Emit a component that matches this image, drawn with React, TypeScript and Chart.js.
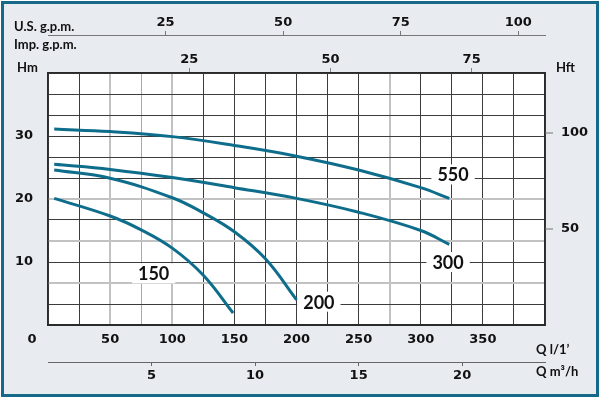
import React, { useEffect, useRef } from 'react';
import { Chart, registerables } from 'chart.js';

Chart.register(...registerables);

// ---- Data (flow in l/min, head in m) ----
const FLOW_550 = [5, 50, 100, 150, 200, 250, 300, 323];
const HEAD_550 = [31.1, 30.7, 29.9, 28.5, 26.8, 24.6, 21.8, 20.1];

const FLOW_300 = [5, 50, 100, 150, 200, 250, 300, 323];
const HEAD_300 = [25.5, 24.7, 23.4, 21.8, 20.1, 17.9, 15.0, 12.8];

const FLOW_200 = [5, 50, 100, 125, 150, 175, 200];
const HEAD_200 = [24.6, 23.3, 20.2, 17.8, 14.8, 10.5, 4.0];

const FLOW_150 = [5, 50, 75, 100, 125, 149];
const HEAD_150 = [20.1, 17.3, 15.1, 12.2, 7.9, 1.9];

const SERIES_NAMES = ['550', '300', '200', '150'];
// label anchor points (flow l/min, head m)
const LABEL_FLOW = [326, 322, 218, 85];
const LABEL_HEAD = [23.9, 10.0, 3.7, 8.2];

// ---- Tick labels ----
const LPM_TICKS = [50, 100, 150, 200, 250, 300, 350];
const M3H_TICKS = [5, 10, 15, 20];
const USGPM_TICKS = [25, 50, 75, 100];
const IMPGPM_TICKS = [25, 50, 75];
const HM_TICKS = [10, 20, 30];
const HFT_TICKS = [50, 100];

// ---- Axis ranges ----
const LPM_MAX = 400;
const HM_MAX = 40;
const HM_GRID_DIVISIONS = 12;

// ---- Styles ----
const CURVE_COLOR = '#0f6d8c';
const FRAME_COLOR = '#17698a';
const PAGE_BG = '#e8ebf0';
const GRID_DARK = '#3c3c3c';
const GRID_LIGHT = '#c2c2c2';
const GRAY_V = [50, 100, 275];
const GRAY_V_THIN = [75];
const GRAY_H_IDX = [2, 4, 6];
const TICK_FONT = { family: 'DejaVu Sans', size: 13, weight: 'bold' as const };
const TITLE_FONT = 'bold 13px Lato';
const LABEL_FONT = 'bold 18px Lato';

const near = (a: number, b: number) => Math.abs(a - b) < 1e-6;

const App: React.FC = () => {
  const canvasRef = useRef<HTMLCanvasElement | null>(null);

  useEffect(() => {
    const canvas = canvasRef.current;
    if (!canvas) return;

    const mk = (xs: number[], ys: number[]) => xs.map((x, i) => ({ x, y: ys[i] }));

    const decorPlugin = {
      id: 'decor',
      beforeDraw(chart: any) {
        const { ctx, width, height, chartArea: a } = chart;
        ctx.save();
        ctx.fillStyle = PAGE_BG;
        ctx.fillRect(0, 0, width, height);
        ctx.fillStyle = '#ffffff';
        ctx.fillRect(a.left, a.top, a.right - a.left, a.bottom - a.top);
        ctx.restore();
      },
      beforeDatasetsDraw(chart: any) {
        const { ctx } = chart;
        const xs = chart.scales.x;
        const ys = chart.scales.y;
        ctx.save();
        ctx.font = LABEL_FONT;
        ctx.textAlign = 'center';
        ctx.textBaseline = 'middle';
        SERIES_NAMES.forEach((name, i) => {
          const px = xs.getPixelForValue(LABEL_FLOW[i]);
          const py = ys.getPixelForValue(LABEL_HEAD[i]);
          const w = ctx.measureText(name).width + 12;
          ctx.fillStyle = '#ffffff';
          ctx.fillRect(px - w / 2, py - 10, w, 20);
          ctx.fillStyle = '#111111';
          ctx.fillText(name, px, py + 1);
        });
        ctx.restore();
      },
      afterDraw(chart: any) {
        const { ctx, width, height } = chart;
        ctx.save();
        ctx.fillStyle = '#111111';
        ctx.font = TITLE_FONT;
        ctx.textBaseline = 'middle';
        ctx.textAlign = 'left';
        ctx.fillText('U.S. g.p.m.', 14, 27);
        ctx.fillText('Imp. g.p.m.', 14, 45);
        ctx.fillText('Hm', 17, 68);
        ctx.fillText('Hft', 556, 68);
        ctx.fillText('Q l/1\u2019', 536, 350);
        ctx.fillText('Q m\u00b3/h', 536, 372);
        ctx.font = `${TICK_FONT.weight} ${TICK_FONT.size}px "${TICK_FONT.family}"`;
        ctx.textAlign = 'center';
        ctx.fillText('0', 32, 340);
        ctx.strokeStyle = '#ffffff';
        ctx.lineWidth = 1;
        ctx.strokeRect(0.5, 0.5, width - 1, height - 1);
        ctx.strokeStyle = FRAME_COLOR;
        ctx.lineWidth = 3;
        ctx.strokeRect(2.5, 2.5, width - 5, height - 5);
        ctx.restore();
      },
    };

    const ds = (xs: number[], ys: number[]) => ({
      data: mk(xs, ys),
      xAxisID: 'x',
      yAxisID: 'y',
      showLine: true,
      borderColor: CURVE_COLOR,
      backgroundColor: CURVE_COLOR,
      borderWidth: 3,
      pointRadius: 0,
      tension: 0.4,
      borderCapStyle: 'butt' as const,
    });

    const tickCfg = (list: number[], padding: number) => ({
      autoSkip: false,
      maxRotation: 0,
      minRotation: 0,
      includeBounds: false,
      padding,
      color: '#111111',
      font: TICK_FONT,
      callback: (v: any) => (list.some((t) => near(t, Number(v))) ? String(v) : ''),
    });

    const tickMarkColor = (list: number[], col: string) => (c: any) =>
      c.tick && list.some((t) => near(t, c.tick.value)) ? col : 'rgba(0,0,0,0)';

    const chart = new Chart(canvas, {
      type: 'scatter',
      data: {
        datasets: [
          ds(FLOW_550, HEAD_550),
          ds(FLOW_300, HEAD_300),
          ds(FLOW_200, HEAD_200),
          ds(FLOW_150, HEAD_150),
        ],
      },
      options: {
        responsive: false,
        animation: false,
        layout: { padding: 0 },
        plugins: { legend: { display: false }, tooltip: { enabled: false }, title: { display: false } },
        scales: {
          x: {
            type: 'linear',
            position: 'bottom',
            weight: 0,
            min: 0,
            max: LPM_MAX,
            ticks: { ...tickCfg(LPM_TICKS, 7), stepSize: 25 },
            grid: {
              drawTicks: false,
              color: (c: any) =>
                c.tick && GRAY_V.includes(c.tick.value)
                  ? GRID_LIGHT
                  : c.tick && GRAY_V_THIN.includes(c.tick.value)
                  ? '#a9a9a9'
                  : GRID_DARK,
              lineWidth: (c: any) => (c.tick && GRAY_V.includes(c.tick.value) ? 2 : 1),
            },
            border: { color: '#2a2a2a', width: 2 },
            afterFit: (s: any) => {
              s.height = 37;
            },
          },
          xm3: {
            type: 'linear',
            position: 'bottom',
            weight: 1,
            min: 0,
            max: (LPM_MAX * 60) / 1000,
            ticks: { ...tickCfg(M3H_TICKS, 2), stepSize: 5 },
            grid: {
              drawOnChartArea: false,
              drawTicks: true,
              tickLength: 4,
              color: tickMarkColor(M3H_TICKS, '#666666'),
            },
            border: { color: '#666666', width: 1 },
            afterFit: (s: any) => {
              s.height = 36;
            },
          },
          ximp: {
            type: 'linear',
            position: 'top',
            weight: 0,
            min: 0,
            max: LPM_MAX / 4.54609,
            ticks: { ...tickCfg(IMPGPM_TICKS, 1), stepSize: 25 },
            grid: {
              drawOnChartArea: false,
              drawTicks: true,
              tickLength: 5,
              color: tickMarkColor(IMPGPM_TICKS, '#888888'),
            },
            border: { color: '#2a2a2a', width: 1.5 },
            afterFit: (s: any) => {
              s.height = 38;
            },
          },
          xus: {
            type: 'linear',
            position: 'top',
            weight: 1,
            min: 0,
            max: LPM_MAX / 3.78541,
            ticks: { ...tickCfg(USGPM_TICKS, 1), stepSize: 25 },
            grid: {
              drawOnChartArea: false,
              drawTicks: true,
              tickLength: 4,
              color: tickMarkColor(USGPM_TICKS, '#777777'),
            },
            border: { color: '#777777', width: 1 },
            afterFit: (s: any) => {
              s.height = 35;
            },
          },
          y: {
            type: 'linear',
            position: 'left',
            min: 0,
            max: HM_MAX,
            afterBuildTicks: (s: any) => {
              const t = [];
              for (let i = 0; i <= HM_GRID_DIVISIONS; i++) t.push({ value: (HM_MAX * i) / HM_GRID_DIVISIONS });
              s.ticks = t;
            },
            ticks: { ...tickCfg(HM_TICKS, 15), callback: (v: any) => {
              const m = HM_TICKS.find((t) => Math.abs(t - Number(v)) < 1e-6);
              return m !== undefined ? String(m) : '';
            } },
            grid: {
              drawTicks: false,
              color: (c: any) => (GRAY_H_IDX.includes(c.index) ? GRID_LIGHT : GRID_DARK),
              lineWidth: (c: any) => (GRAY_H_IDX.includes(c.index) ? 2 : 1),
            },
            border: { color: '#2a2a2a', width: 1.5 },
            afterFit: (s: any) => {
              s.width = 48;
            },
          },
          yft: {
            type: 'linear',
            position: 'right',
            min: 0,
            max: HM_MAX / 0.3048,
            ticks: { ...tickCfg(HFT_TICKS, 8), stepSize: 50 },
            grid: {
              drawOnChartArea: false,
              drawTicks: true,
              tickLength: 8,
              lineWidth: 2,
              color: tickMarkColor(HFT_TICKS, '#b0b0b0'),
            },
            border: { color: '#2a2a2a', width: 1.5 },
            afterFit: (s: any) => {
              s.width = 55;
            },
          },
        },
      } as any,
      plugins: [decorPlugin],
    });

    return () => {
      chart.destroy();
    };
  }, []);

  return (
    <div style={{ position: 'fixed', left: 0, top: 0, width: 600, height: 398 }}>
      <canvas ref={canvasRef} width={600} height={398} style={{ display: 'block', width: 600, height: 398 }} />
    </div>
  );
};

export default App;
